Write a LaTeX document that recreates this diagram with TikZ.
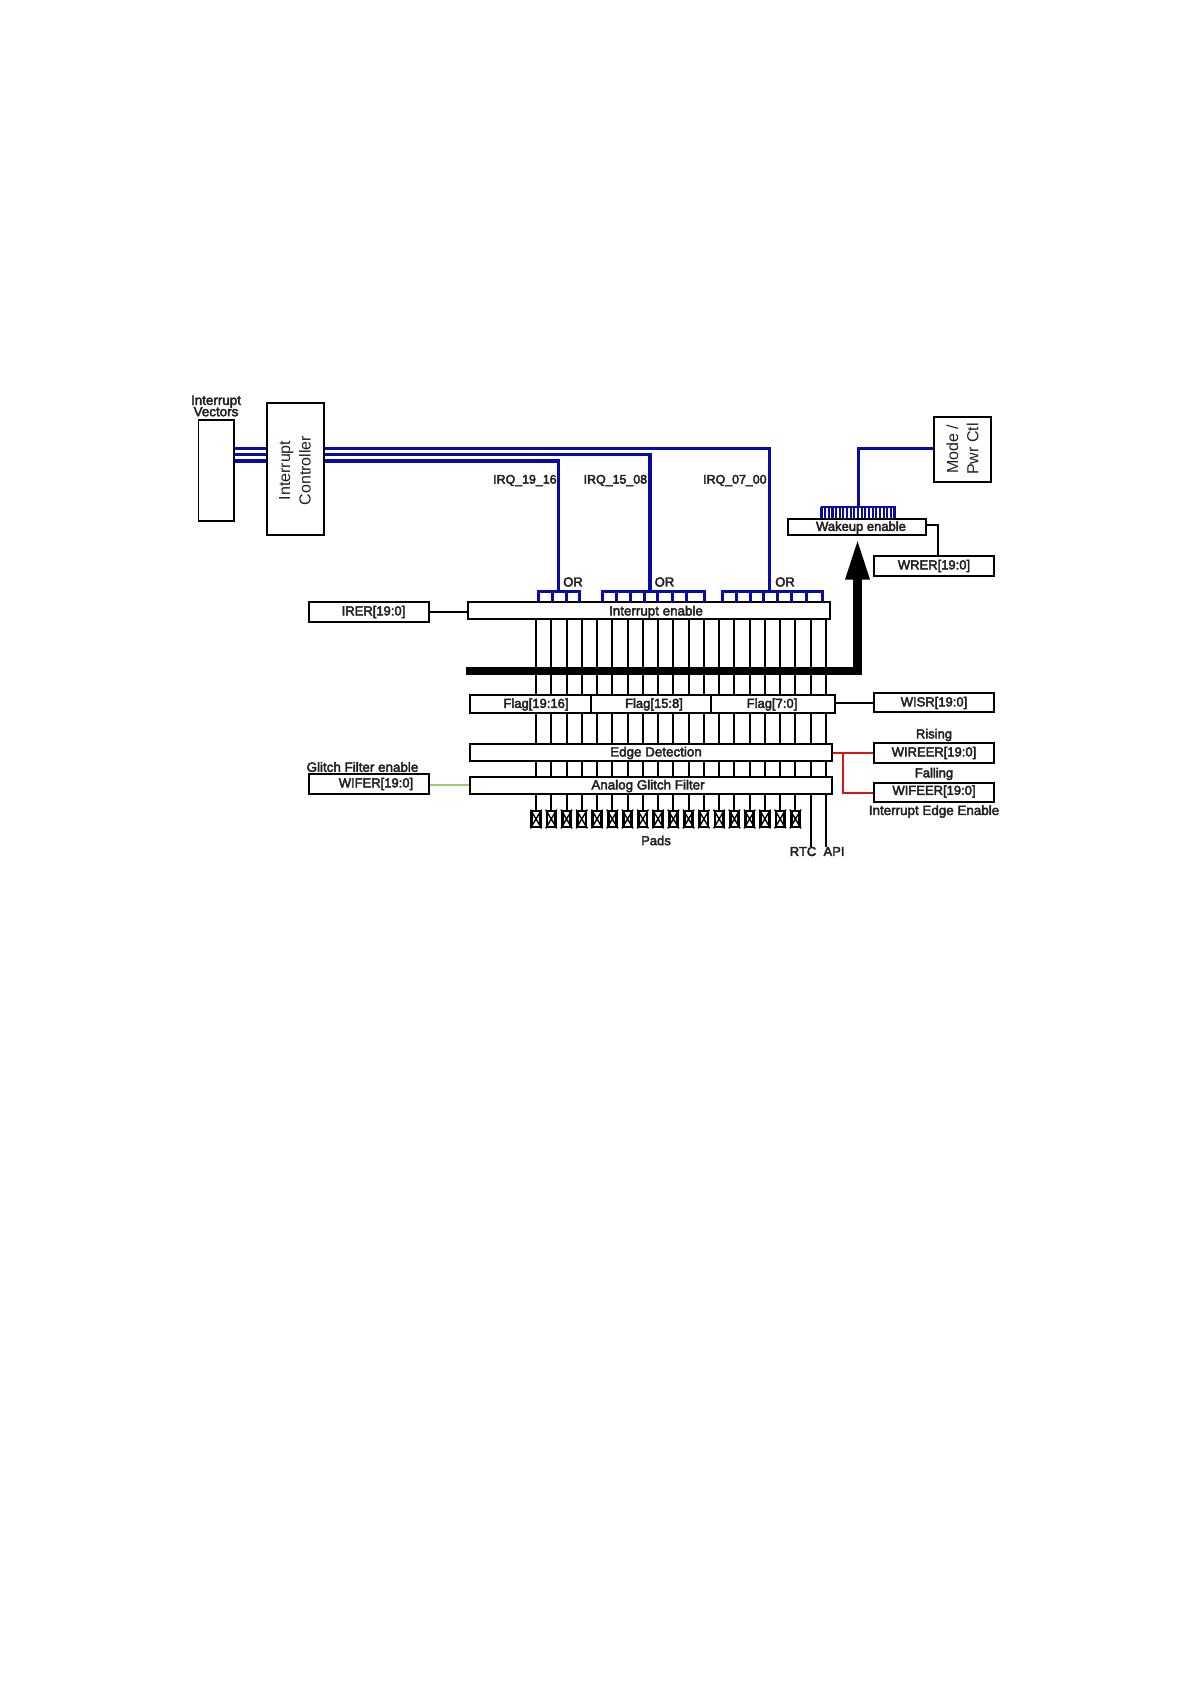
\documentclass[tikz,border=0pt]{standalone}
\usepackage{fontspec}
\setmainfont{Liberation Sans}
\usetikzlibrary{arrows.meta}
\definecolor{busblue}{HTML}{0A0AA6}
\definecolor{wirered}{HTML}{D81414}
\definecolor{wiregreen}{HTML}{9CCB6C}
\tikzset{
  px/.style={line width=#1*0.5pt},
  lbl/.style={inner sep=0pt,font=\fontsize{6.5}{7}\selectfont,text=black!88,
    execute at begin node={\special{pdf:code q 2 Tr 0.2 w}},
    execute at end node={\special{pdf:code Q}}},
  smalllbl/.style={lbl,font=\fontsize{6.2}{7}\selectfont},
  wlbl/.style={lbl,font=\fontsize{6.7}{7}\selectfont},
  biglbl/.style={inner sep=0pt,font=\fontsize{8}{8.7}\selectfont,text=black!88,rotate=90,align=center},
  bx/.style 2 args={draw=black,px=2,fill=white,inner sep=0pt,minimum width=#1*0.5pt,minimum height=#2*0.5pt},
  blk/.style={draw=black,px=2},
  bus/.style={draw=busblue,px=3.2,line cap=butt},
  tick/.style={draw=busblue,px=3},
}
\begin{document}
\begin{tikzpicture}[x=0.5pt,y=-0.5pt]
\useasboundingbox (0,0) rectangle (1191,1684);
% blue rail levels
\coordinate (r1) at (0,448.7);
\coordinate (r2) at (0,454.7);
\coordinate (r3) at (0,461);
\coordinate (rw) at (0,793);
\coordinate (gw) at (0,785);
\coordinate (padtop) at (0,810);
% wires
\foreach \k in {0,...,19} {
  \coordinate (w\k) at ({536+\k*15.26},700);
}
% stacked boxes
\node[bx={362}{17.5}] (ie) at (649,610.5) {};
\node[bx={121}{18.5}] (f1) at (530.5,704) {};
\node[bx={120}{18.5}] (f2) at (651,704) {};
\node[bx={124}{18.5}] (f3) at (773,704) {};
\node[bx={362}{17}] (ed) at (651,752.5) {};
\node[bx={362}{17}] (ag) at (651,785) {};
% pads
\foreach \k in {0,...,17} {
  \draw[blk] (w\k |- ag.south) -- (w\k |- padtop);
  \node[draw=black,px=2.8,minimum width=4.2pt,minimum height=8pt,inner sep=0pt] (p\k) at ({536+\k*15.26},819) {};
  \draw[black,px=1.4] (p\k.north west) -- (p\k.south east) (p\k.north east) -- (p\k.south west);
}
\coordinate (rtcEnd) at (811,846.7);
\coordinate (apiEnd) at (826,846.7);
\draw[blk] (rtcEnd |- ag.south) -- (rtcEnd);
\draw[blk] (apiEnd |- ag.south) -- (apiEnd);
\foreach \k in {0,...,19} {
  \draw[blk] (w\k |- ie.south) -- (w\k |- f1.north);
  \draw[blk] (w\k |- f1.south) -- (w\k |- ed.north);
  \draw[blk] (w\k |- ed.south) -- (w\k |- ag.north);
}
% vectors and controller
\node[bx={35.5}{101},px=1.7] (vec) at (216.3,470.5) {};
\node[bx={57}{132}] (ctl) at (295.5,469) {};
\node[draw=black,bx={57}{65}] (mode) at (962.3,449.3) {};
\node[biglbl] at (295,470.5) {Interrupt\\[1.5pt]Controller};
\node[biglbl] at (962.5,449) {Mode /\\[1.5pt]Pwr Ctl};
\node[wlbl,align=center] at (216,406) {Interrupt\\[-1.3pt]Vectors};
% buses between vectors and controller
\draw[busblue,px=2.6] (vec.east |- r1) -- (ctl.west |- r1);
\draw[bus] (vec.east |- r2) -- (ctl.west |- r2);
\draw[bus] (vec.east |- r3) -- (ctl.west |- r3);
% OR groups
\coordinate (o1) at (558.5,591.5);
\coordinate (o2) at (650,591.5);
\coordinate (o3) at (769.7,591.5);
\draw[bus] (ctl.east |- r3) -| (o1);
\draw[bus] (ctl.east |- r2) -| (o2);
\draw[busblue,px=3] (ctl.east |- r1) -| (o3);
\foreach \x in {538,552,566,579} \draw[tick] (\x,591.5) -- (\x,601.7);
\foreach \x in {602,616,630,644,657,672,686,704} \draw[tick] (\x,591.5) -- (\x,601.7);
\foreach \x in {722,736,750,763,777,791,806,822} \draw[tick] (\x,591.5) -- (\x,601.7);
\draw[bus] (536.5,591.5) -- (580.5,591.5);
\draw[bus] (600.5,591.5) -- (705.5,591.5);
\draw[bus] (720.5,591.5) -- (823.5,591.5);
\node[smalllbl,anchor=east] at (557,480.5) {IRQ\_19\_16};
\node[smalllbl,anchor=east] at (647.5,480.5) {IRQ\_15\_08};
\node[smalllbl,anchor=east] at (767,480.5) {IRQ\_07\_00};
\node[lbl] at (573,582) {OR};
\node[lbl] at (664.5,582) {OR};
\node[lbl] at (785,582) {OR};
% wakeup
\node[bx={137.5}{16.5}] (wk) at (857,527) {};
\coordinate (comb) at (858,506.7);
\draw[busblue,px=3] (mode.west |- r1) -| (comb);
\foreach \i in {0,...,20} \draw[busblue,px=2.1] ({821.5+\i*3.65},506.7) -- ({821.5+\i*3.65},518);
\draw[busblue,px=2] (820.5,506.7) -- (895.5,506.7);
\node[lbl] at (861,527.5) {Wakeup enable};
\node[bx={120}{20}] (wrer) at (934,566) {};
\coordinate (wrj) at (938,525);
\draw[blk] (wk.east |- wrj) -- (wrj) -- (wrj |- wrer.north);
\node[lbl] at (934,566) {WRER[19:0]};
% thick wakeup arrow
\coordinate (barL) at (466,671);
\coordinate (tip) at (857.5,538.5);
\draw[black,line width=4.3pt,line join=miter,-{Triangle[length=20.5pt,width=11pt]}] (barL) -| (tip);
% registers
\node[bx={120}{20}] (irer) at (369,612) {};
\node[lbl] at (373.5,612) {IRER[19:0]};
\draw[blk] (irer.east) -- (irer.east -| ie.west);
\node[bx={120}{19}] (wisr) at (934,702.5) {};
\node[lbl] at (934,703) {WISR[19:0]};
\draw[blk] (wisr.west) -- (wisr.west -| f3.east);
\node[bx={120}{20}] (wireer) at (934,753) {};
\node[lbl] at (934,753) {WIREER[19:0]};
\node[bx={120}{19}] (wifeer) at (934,792) {};
\node[lbl] at (934,791.5) {WIFEER[19:0]};
\coordinate (rj) at (842.7,753);
\draw[wirered,px=2.2] (ed.east |- rj) -- (wireer.west);
\draw[wirered,px=2.2] (rj) |- (wifeer.west |- rw);
\node[bx={120}{20}] (wifer) at (368.5,784) {};
\node[lbl] at (376,784) {WIFER[19:0]};
\draw[wiregreen,px=2] (wifer.east |- gw) -- (ag.west |- gw);
% text on boxes
\node[wlbl] at (656,612) {Interrupt enable};
\node[lbl] at (536,704.5) {Flag[19:16]};
\node[lbl] at (654,704.5) {Flag[15:8]};
\node[lbl] at (772,704.5) {Flag[7:0]};
\node[wlbl] at (656,753) {Edge Detection};
\node[wlbl] at (648,786) {Analog Glitch Filter};
% free labels
\node[wlbl] at (362.5,767) {Glitch Filter enable};
\node[lbl] at (934,735) {Rising};
\node[lbl] at (934,774) {Falling};
\node[wlbl] at (934,811.5) {Interrupt Edge Enable};
\node[lbl] at (656,840.5) {Pads};
\node[lbl] at (803,851.5) {RTC};
\node[lbl] at (834,851.5) {API};
\end{tikzpicture}
\end{document}
